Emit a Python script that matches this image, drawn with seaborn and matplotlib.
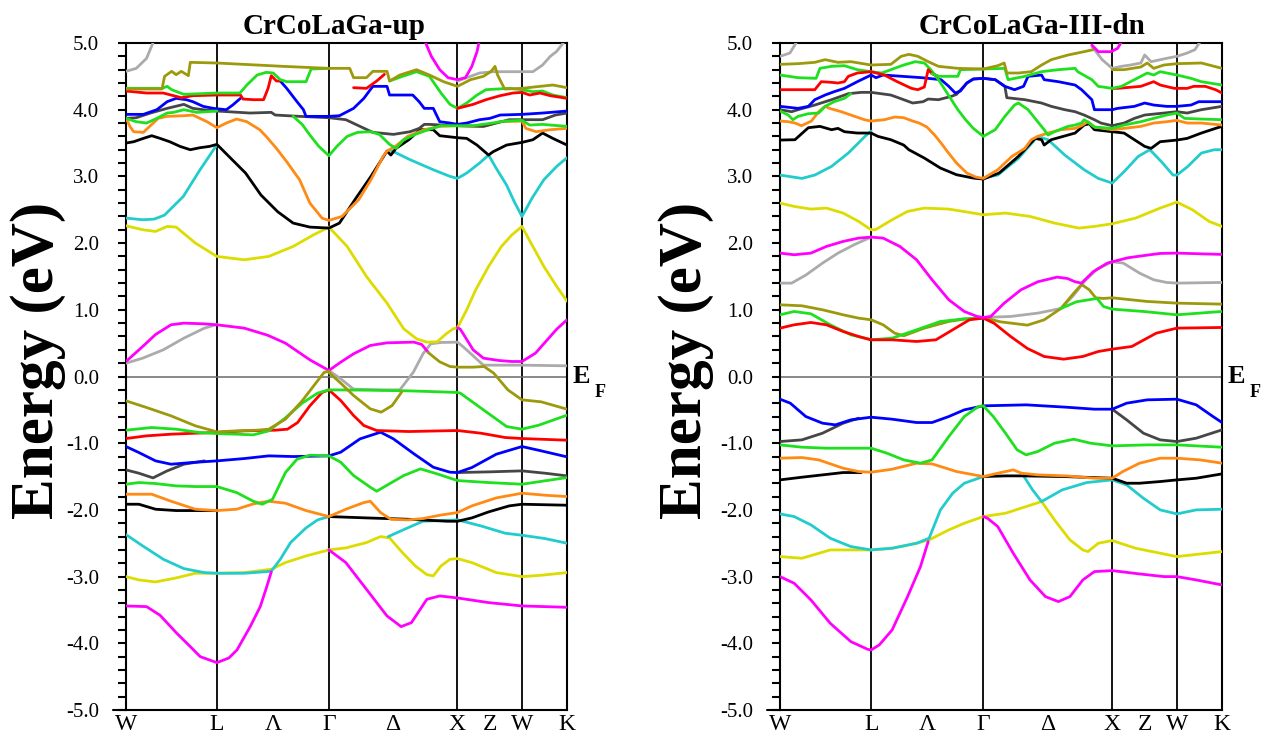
import matplotlib
matplotlib.use("Agg")
import matplotlib.pyplot as plt
import seaborn as sns
from matplotlib.ticker import MultipleLocator, FormatStrFormatter
from matplotlib.transforms import blended_transform_factory

# ---------------- k-path nodes ----------------
K_W0, K_L, K_G, K_X, K_W, K_K = 0.0, 0.707, 1.578, 2.578, 3.08, 3.43
TICK_POS = [K_W0, K_L, (K_L + K_G) / 2, K_G, (K_G + K_X) / 2, K_X, (K_X + K_W) / 2, K_W, K_K]
TICK_LABELS = ["W", "L", "Λ", "Γ", "Δ", "X", "Z", "W", "K"]
TITLES = ["CrCoLaGa-up", "CrCoLaGa-III-dn"]

COLORS = {
    "magenta": "#ff00ff", "gray": "#ababab", "yellow": "#dcdc00", "cyan": "#22cccc",
    "orange": "#ff8a14", "black": "#000000", "dgray": "#464646", "blue": "#0000ff",
    "red": "#ff0000", "green": "#1ee01e", "olive": "#9c9a0c",
}

# ================= spin-up panel =================
UP_GRY_WL_K = [0, 0.13, 0.29, 0.45, 0.61, 0.707]
UP_GRY_WL_E = [0.2, 0.275, 0.40, 0.575, 0.725, 0.78]
UP_GRY_GX_K = [1.578, 1.67, 1.77, 2.0, 2.13, 2.235, 2.31, 2.37, 2.45, 2.578, 2.62, 2.78, 2.96, 3.08, 3.43]
UP_GRY_GX_E = [0.09, -0.035, -0.19, -0.2, -0.2, 0.065, 0.34, 0.49, 0.51, 0.515, 0.45, 0.17, 0.17, 0.17, 0.16]
UP_GRY_TL_K = [0, 0.08, 0.16, 0.22]
UP_GRY_TL_E = [4.575, 4.62, 4.77, 5.05]
UP_GRY_TR_K = [2.578, 2.65, 2.75, 2.855, 2.93, 3.08, 3.165, 3.24, 3.30, 3.35, 3.42]
UP_GRY_TR_E = [4.43, 4.48, 4.55, 4.57, 4.57, 4.57, 4.57, 4.67, 4.8, 4.875, 5.05]

UP_YEL_LOW1_K = [0, 0.10, 0.23, 0.39, 0.54, 0.707, 0.92, 1.13, 1.24, 1.40, 1.578]
UP_YEL_LOW1_E = [-3.0, -3.05, -3.08, -3.02, -2.95, -2.95, -2.94, -2.89, -2.79, -2.69, -2.60]
UP_YEL_LOW2_K = [1.578, 1.71, 1.87, 1.98, 2.05, 2.15, 2.25, 2.34, 2.39, 2.45, 2.52, 2.578, 2.69, 2.88, 3.08, 3.23, 3.43]
UP_YEL_LOW2_E = [-2.60, -2.57, -2.49, -2.40, -2.42, -2.64, -2.84, -2.97, -2.99, -2.84, -2.74, -2.73, -2.79, -2.94, -3.0, -2.98, -2.94]
UP_YEL_UP_K = [0, 0.13, 0.23, 0.32, 0.39, 0.54, 0.707, 0.92, 1.11, 1.30, 1.46, 1.578, 1.72, 1.87, 2.03, 2.16,
               2.26, 2.34, 2.42, 2.49, 2.545, 2.578, 2.65, 2.72, 2.82, 2.92, 3.0, 3.08, 3.15, 3.25, 3.35, 3.43]
UP_YEL_UP_E = [2.26, 2.2, 2.175, 2.25, 2.24, 2.0, 1.8, 1.75, 1.8, 1.95, 2.125, 2.24, 1.95, 1.5, 1.1, 0.715,
               0.565, 0.515, 0.52, 0.64, 0.715, 0.73, 1.0, 1.3, 1.65, 1.95, 2.12, 2.25, 2.0, 1.65, 1.35, 1.13]

UP_CYA_LOW1_K = [0, 0.13, 0.29, 0.45, 0.61, 0.707, 0.92, 1.13, 1.20, 1.28, 1.40, 1.49, 1.578]
UP_CYA_LOW1_E = [-2.37, -2.54, -2.74, -2.88, -2.94, -2.95, -2.95, -2.92, -2.74, -2.49, -2.27, -2.15, -2.10]
UP_CYA_LOW2_K = [2.04, 2.19, 2.31, 2.578, 2.76, 2.95, 3.08, 3.26, 3.43]
UP_CYA_LOW2_E = [-2.40, -2.27, -2.17, -2.15, -2.24, -2.35, -2.38, -2.43, -2.50]
UP_CYA_UP1_K = [0, 0.13, 0.22, 0.30, 0.446, 0.576, 0.707]
UP_CYA_UP1_E = [2.375, 2.35, 2.36, 2.42, 2.7, 3.1, 3.475]
UP_CYA_UP2_K = [2.05, 2.21, 2.39, 2.52, 2.578, 2.65, 2.75, 2.82, 2.88, 2.96, 3.02, 3.08, 3.16, 3.25, 3.35, 3.43]
UP_CYA_UP2_E = [3.4, 3.25, 3.1, 3.0, 2.97, 3.05, 3.2, 3.32, 3.12, 2.87, 2.62, 2.4, 2.68, 2.95, 3.15, 3.28]

UP_MAG_LOW1_K = [0, 0.16, 0.265, 0.395, 0.50, 0.577, 0.707, 0.80, 0.863, 0.966, 1.044, 1.09, 1.13]
UP_MAG_LOW1_E = [-3.44, -3.45, -3.58, -3.85, -4.05, -4.2, -4.29, -4.22, -4.1, -3.75, -3.45, -3.18, -2.93]
UP_MAG_LOW2_K = [1.578, 1.71, 1.87, 2.03, 2.14, 2.22, 2.34, 2.44, 2.578, 2.82, 3.08, 3.43]
UP_MAG_LOW2_E = [-2.60, -2.79, -3.19, -3.59, -3.75, -3.69, -3.34, -3.29, -3.32, -3.39, -3.44, -3.46]
UP_MAG_MID_K = [0, 0.13, 0.23, 0.35, 0.45, 0.60, 0.707, 0.92, 1.10, 1.24, 1.43, 1.578, 1.67, 1.77, 1.90, 2.03, 2.24, 2.30, 2.35]
UP_MAG_MID_E = [0.225, 0.45, 0.63, 0.775, 0.80, 0.79, 0.775, 0.725, 0.62, 0.50, 0.25, 0.09, 0.215, 0.34, 0.465, 0.505, 0.515, 0.48, 0.365]
UP_MAG_XK_K = [2.578, 2.60, 2.70, 2.78, 2.90, 3.0, 3.08, 3.185, 3.35, 3.43]
UP_MAG_XK_E = [0.73, 0.71, 0.40, 0.275, 0.24, 0.225, 0.225, 0.35, 0.71, 0.85]
UP_MAG_TOP_K = [2.32, 2.375, 2.44, 2.505, 2.578, 2.64, 2.69, 2.73, 2.75]
UP_MAG_TOP_E = [5.05, 4.8, 4.6, 4.48, 4.45, 4.48, 4.65, 4.87, 5.05]

UP_ORA_LOW_K = [0, 0.20, 0.35, 0.54, 0.707, 0.86, 0.99, 1.11, 1.24, 1.40, 1.578, 1.71, 1.85, 1.90, 1.98,
                2.06, 2.19, 2.31, 2.44, 2.578, 2.69, 2.88, 3.08, 3.26, 3.43]
UP_ORA_LOW_E = [-1.765, -1.765, -1.87, -1.99, -2.01, -1.99, -1.91, -1.87, -1.90, -2.01, -2.10, -1.99, -1.89, -1.87, -2.04,
                -2.14, -2.15, -2.13, -2.08, -2.04, -1.94, -1.82, -1.75, -1.78, -1.80]
UP_ORA_UP_K = [0, 0.03, 0.06, 0.135, 0.19, 0.25, 0.32, 0.45, 0.52, 0.63, 0.707, 0.78, 0.86, 0.94, 1.04, 1.09, 1.17,
               1.25, 1.35, 1.43, 1.525, 1.578, 1.68, 1.81, 1.905, 2.0, 2.03, 2.095, 2.19, 2.32, 2.44, 2.578, 2.78,
               2.91, 3.08, 3.11, 3.19, 3.30, 3.43]
UP_ORA_UP_E = [3.88, 3.75, 3.67, 3.66, 3.76, 3.87, 3.9, 3.91, 3.92, 3.82, 3.73, 3.8, 3.86, 3.82, 3.7, 3.6, 3.42,
               3.22, 2.95, 2.6, 2.375, 2.34, 2.4, 2.65, 2.95, 3.3, 3.38, 3.45, 3.6, 3.7, 3.75, 3.76, 3.75,
               3.82, 3.83, 3.72, 3.67, 3.7, 3.72]

UP_BLK_LOW1_K = [0, 0.10, 0.23, 0.39, 0.61, 0.707]
UP_BLK_LOW1_E = [-1.915, -1.915, -1.99, -2.01, -2.01, -2.01]
UP_BLK_LOW2_K = [1.578, 1.87, 2.19, 2.50, 2.578, 2.69, 2.82, 2.98, 3.08, 3.43]
UP_BLK_LOW2_E = [-2.10, -2.12, -2.14, -2.17, -2.17, -2.12, -2.03, -1.94, -1.915, -1.93]
UP_BLK_UP_K = [0, 0.06, 0.135, 0.2, 0.265, 0.34, 0.42, 0.5, 0.575, 0.65, 0.707, 0.80, 0.93, 1.05, 1.18, 1.30, 1.43,
               1.578, 1.66, 1.78, 1.905, 2.03, 2.06, 2.10, 2.2, 2.285, 2.39, 2.44, 2.578, 2.65, 2.73, 2.82, 2.855,
               2.96, 3.08, 3.165, 3.24, 3.32, 3.43]
UP_BLK_UP_E = [3.5, 3.52, 3.57, 3.61, 3.57, 3.52, 3.45, 3.4, 3.43, 3.45, 3.48, 3.3, 3.05, 2.72, 2.47, 2.3, 2.24,
               2.225, 2.3, 2.65, 3.0, 3.38, 3.32, 3.42, 3.55, 3.7, 3.7, 3.61, 3.58, 3.57, 3.47, 3.32, 3.37,
               3.47, 3.51, 3.55, 3.65, 3.57, 3.47]

UP_DGR_LOW1_K = [0, 0.10, 0.21, 0.32, 0.45, 0.61]
UP_DGR_LOW1_E = [-1.40, -1.45, -1.52, -1.415, -1.315, -1.265]
UP_DGR_LOW2_K = [2.578, 2.82, 3.08, 3.26, 3.43]
UP_DGR_LOW2_E = [-1.44, -1.43, -1.415, -1.45, -1.49]
UP_DGR_UP_K = [0, 0.08, 0.19, 0.32, 0.45, 0.52, 0.60, 0.707, 0.965, 1.13, 1.16, 1.35, 1.578, 1.71, 1.82, 1.92,
               2.08, 2.21, 2.28, 2.32, 2.36, 2.45, 2.578, 2.78, 2.98, 3.08, 3.24, 3.34, 3.43]
UP_DGR_UP_E = [3.87, 3.88, 3.95, 4.02, 4.08, 4.02, 4.0, 3.98, 3.95, 3.96, 3.92, 3.9, 3.88, 3.85, 3.75, 3.66,
               3.63, 3.67, 3.72, 3.78, 3.78, 3.77, 3.76, 3.75, 3.85, 3.85, 3.85, 3.92, 3.95]

UP_BLU_LOW_K = [0, 0.10, 0.23, 0.35, 0.51, 0.707, 0.92, 1.11, 1.30, 1.578, 1.67, 1.82, 1.98, 2.08, 2.24, 2.39,
                2.52, 2.578, 2.69, 2.88, 3.08, 3.23, 3.43]
UP_BLU_LOW_E = [-1.05, -1.14, -1.265, -1.315, -1.29, -1.265, -1.23, -1.19, -1.20, -1.19, -1.135, -0.935, -0.835,
                -0.935, -1.16, -1.36, -1.435, -1.44, -1.365, -1.165, -1.05, -1.115, -1.205]
UP_BLU_TOP1_K = [0, 0.135, 0.24, 0.32, 0.39, 0.47, 0.52, 0.60, 0.68, 0.73, 0.78, 0.83, 0.89]
UP_BLU_TOP1_E = [3.93, 3.93, 4.0, 4.12, 4.17, 4.15, 4.12, 4.05, 4.02, 4.01, 4.0, 4.07, 4.17]
UP_BLU_TOP2_K = [1.20, 1.25, 1.33, 1.38, 1.40, 1.578, 1.66, 1.77, 1.85, 1.90, 1.92, 2.03, 2.05, 2.23, 2.28, 2.32,
                 2.39, 2.44, 2.52, 2.578, 2.65, 2.75, 2.83, 2.91, 3.08, 3.24, 3.43]
UP_BLU_TOP2_E = [4.43, 4.32, 4.12, 4.0, 3.9, 3.9, 3.91, 4.02, 4.17, 4.3, 4.35, 4.35, 4.22, 4.22, 4.12, 4.02,
                 4.02, 3.82, 3.8, 3.78, 3.8, 3.85, 3.87, 3.92, 3.93, 3.95, 3.98]

UP_RED_LOW_K = [0, 0.16, 0.35, 0.54, 0.707, 0.92, 1.16, 1.256, 1.335, 1.43, 1.525, 1.578, 1.67, 1.77, 1.85, 1.95,
                2.2, 2.578, 2.76, 2.95, 3.08, 3.43]
UP_RED_LOW_E = [-0.93, -0.89, -0.865, -0.85, -0.84, -0.815, -0.805, -0.79, -0.69, -0.44, -0.24, -0.2, -0.36,
                -0.585, -0.735, -0.81, -0.825, -0.81, -0.85, -0.915, -0.93, -0.955]
UP_RED_TOP1_K = [0, 0.08, 0.16, 0.29, 0.43, 0.52, 0.707, 0.89, 0.91, 0.99, 1.07, 1.105, 1.13, 1.17, 1.20]
UP_RED_TOP1_E = [4.28, 4.265, 4.25, 4.25, 4.18, 4.21, 4.22, 4.22, 4.16, 4.15, 4.15, 4.32, 4.51, 4.43, 4.43]
UP_RED_TOP2_K = [1.77, 1.87, 1.95, 2.01]
UP_RED_TOP2_E = [4.33, 4.32, 4.43, 4.53]
UP_RED_TOP3_K = [2.578, 2.70, 2.80, 2.91, 3.01, 3.08, 3.14, 3.22, 3.30, 3.43]
UP_RED_TOP3_E = [4.02, 4.08, 4.15, 4.21, 4.25, 4.26, 4.22, 4.25, 4.21, 4.17]

UP_GRN_LOW_K = [0, 0.10, 0.23, 0.39, 0.54, 0.707, 0.86, 0.99, 1.06, 1.14, 1.24, 1.33, 1.43, 1.578, 1.67, 1.77,
                1.90, 1.95, 2.03, 2.16, 2.29, 2.42, 2.578, 2.82, 3.08, 3.43]
UP_GRN_LOW_E = [-1.615, -1.59, -1.605, -1.64, -1.65, -1.65, -1.74, -1.87, -1.915, -1.84, -1.44, -1.24, -1.18,
                -1.19, -1.285, -1.485, -1.66, -1.72, -1.63, -1.485, -1.385, -1.46, -1.56, -1.59, -1.615, -1.515]
UP_GRN_MID_K = [0, 0.20, 0.39, 0.57, 0.707, 0.86, 0.99, 1.11, 1.24, 1.37, 1.49, 1.578, 1.87, 2.19, 2.44, 2.578,
                2.60, 2.78, 2.96, 3.08, 3.21, 3.43]
UP_GRN_MID_E = [-0.805, -0.765, -0.79, -0.84, -0.855, -0.865, -0.875, -0.815, -0.62, -0.40, -0.25, -0.20,
                -0.205, -0.215, -0.23, -0.24, -0.25, -0.5, -0.75, -0.79, -0.73, -0.58]
UP_GRN_V_K = [1.30, 1.37, 1.43, 1.50, 1.578, 1.64, 1.72, 1.80, 1.90, 1.97, 2.05, 2.10, 2.16, 2.25, 2.35, 2.45,
              2.578, 2.70, 2.85, 2.95, 3.08, 3.14, 3.24, 3.30, 3.43]
UP_GRN_V_E = [3.9, 3.78, 3.62, 3.45, 3.31, 3.45, 3.6, 3.66, 3.67, 3.63, 3.48, 3.42, 3.55, 3.63, 3.7, 3.76,
              3.76, 3.76, 3.8, 3.83, 3.84, 3.77, 3.78, 3.77, 3.75]
UP_GRN_TOP_K = [0, 0.28, 0.32, 0.355, 0.45, 0.707, 0.886, 0.94, 1.02, 1.09, 1.145, 1.20, 1.25, 1.40, 1.44, 1.578]
UP_GRN_TOP_E = [4.32, 4.32, 4.35, 4.3, 4.23, 4.25, 4.25, 4.37, 4.52, 4.56, 4.55, 4.45, 4.42, 4.42, 4.61, 4.62]
UP_GRN_W_K = [0, 0.08, 0.16, 0.24, 0.32, 0.37, 0.45, 0.55, 0.707]
UP_GRN_W_E = [3.87, 3.82, 3.8, 3.87, 3.95, 3.96, 4.0, 3.96, 3.98]
UP_GRN_TR_K = [2.05, 2.15, 2.26, 2.36, 2.45, 2.52, 2.578, 2.65, 2.73, 2.80, 2.98, 3.08, 3.165, 3.24, 3.32, 3.43]
UP_GRN_TR_E = [4.43, 4.5, 4.57, 4.5, 4.25, 4.08, 4.02, 4.1, 4.22, 4.3, 4.32, 4.3, 4.27, 4.28, 4.22, 4.18]

UP_OLI_LOW_K = [0, 0.16, 0.35, 0.54, 0.707, 0.86, 1.02, 1.11, 1.24, 1.37, 1.46, 1.54, 1.578]
UP_OLI_LOW_E = [-0.365, -0.465, -0.59, -0.74, -0.83, -0.815, -0.805, -0.79, -0.64, -0.365, -0.14, 0.06, 0.08]
UP_OLI_DIP_K = [1.578, 1.67, 1.77, 1.90, 1.985, 2.07, 2.145]
UP_OLI_DIP_E = [0.06, -0.1, -0.285, -0.485, -0.535, -0.435, -0.23]
UP_OLI_XMID_K = [2.35, 2.44, 2.52, 2.578, 2.70, 2.785, 2.86, 2.97, 3.08, 3.23, 3.43]
UP_OLI_XMID_E = [0.36, 0.22, 0.15, 0.14, 0.14, 0.15, 0.05, -0.2, -0.35, -0.38, -0.49]
UP_OLI_TOP_K = [0, 0.28, 0.30, 0.355, 0.39, 0.43, 0.485, 0.50, 0.707, 0.965, 1.22, 1.578, 1.74, 1.77, 1.87, 1.92,
                2.03, 2.05, 2.13, 2.26, 2.36, 2.47, 2.578, 2.68, 2.78, 2.84, 2.87, 2.89, 2.945, 3.08, 3.22, 3.32, 3.43]
UP_OLI_TOP_E = [4.31, 4.31, 4.5, 4.575, 4.525, 4.575, 4.51, 4.71, 4.70, 4.675, 4.65, 4.62, 4.62, 4.48, 4.48, 4.575,
                4.575, 4.43, 4.52, 4.6, 4.52, 4.42, 4.35, 4.45, 4.5, 4.575, 4.65, 4.52, 4.31, 4.32, 4.35, 4.37, 4.33]

# ================= spin-down panel =================
DN_GRY_TL_K = [0, 0.077, 0.14]
DN_GRY_TL_E = [4.8, 4.85, 5.05]
DN_GRY_WL_K = [0, 0.09, 0.2, 0.33, 0.45, 0.58, 0.707]
DN_GRY_WL_E = [1.4, 1.4, 1.52, 1.7, 1.85, 1.98, 2.09]
DN_GRY_GK_K = [1.578, 1.79, 2.0, 2.18, 2.28, 2.36, 2.46, 2.578, 2.664, 2.79, 2.9, 3.0, 3.08, 3.43]
DN_GRY_GK_E = [0.885, 0.9, 0.95, 1.02, 1.22, 1.42, 1.61, 1.72, 1.7, 1.55, 1.45, 1.41, 1.4, 1.41]
DN_GRY_TR_K = [2.42, 2.50, 2.578, 2.65, 2.72, 2.80, 2.83, 2.88, 3.0, 3.08, 3.16, 3.22, 3.27]
DN_GRY_TR_E = [4.95, 4.75, 4.62, 4.65, 4.67, 4.7, 4.82, 4.72, 4.77, 4.8, 4.85, 4.9, 5.05]

DN_YEL_LOW1_K = [0, 0.17, 0.39, 0.61, 0.707, 0.87, 1.06, 1.157]
DN_YEL_LOW1_E = [-2.7, -2.725, -2.6, -2.6, -2.6, -2.575, -2.5, -2.45]
DN_YEL_LOW2_K = [1.157, 1.31, 1.43, 1.578, 1.75, 1.91, 2.03, 2.13, 2.25, 2.35, 2.39, 2.47, 2.578, 2.76, 3.08, 3.43]
DN_YEL_LOW2_E = [-2.45, -2.3, -2.2, -2.1, -2.05, -1.95, -1.875, -2.15, -2.45, -2.6, -2.625, -2.5, -2.46, -2.575, -2.7, -2.625]
DN_YEL_UP_K = [0, 0.11, 0.24, 0.36, 0.49, 0.61, 0.707, 0.74, 0.87, 0.99, 1.12, 1.31, 1.50, 1.578, 1.75, 1.94,
               2.13, 2.32, 2.44, 2.578, 2.76, 2.95, 3.08, 3.20, 3.33, 3.43]
DN_YEL_UP_E = [2.6, 2.55, 2.51, 2.525, 2.45, 2.325, 2.2, 2.2, 2.35, 2.475, 2.525, 2.51, 2.45, 2.425, 2.45, 2.4,
               2.3, 2.225, 2.25, 2.29, 2.375, 2.525, 2.615, 2.5, 2.325, 2.25]

DN_CYA_LOW1_K = [0, 0.11, 0.24, 0.39, 0.55, 0.707, 0.87, 1.06, 1.157, 1.245, 1.34, 1.43, 1.578]
DN_CYA_LOW1_E = [-2.06, -2.1, -2.225, -2.425, -2.55, -2.6, -2.575, -2.5, -2.425, -2.0, -1.75, -1.6, -1.5]
DN_CYA_LOW2_K = [1.89, 1.96, 2.03, 2.19, 2.38, 2.578, 2.69, 2.82, 2.95, 3.08, 3.23, 3.43]
DN_CYA_LOW2_E = [-1.49, -1.7, -1.875, -1.7, -1.59, -1.55, -1.625, -1.825, -2.0, -2.06, -2.0, -1.99]
DN_CYA_UP1_K = [0, 0.17, 0.27, 0.40, 0.53, 0.66, 0.707]
DN_CYA_UP1_E = [3.02, 2.97, 3.02, 3.15, 3.35, 3.6, 3.68]
DN_CYA_UP2_K = [1.578, 1.69, 1.85, 2.0, 2.08, 2.21, 2.36, 2.47, 2.578, 2.67, 2.78, 2.87, 2.96, 3.05, 3.08, 3.165,
                3.27, 3.37, 3.43]
DN_CYA_UP2_E = [2.98, 3.02, 3.27, 3.6, 3.55, 3.32, 3.1, 2.97, 2.9, 3.07, 3.3, 3.4, 3.22, 3.02, 3.02, 3.15,
                3.35, 3.4, 3.4]

DN_MAG_LOW1_K = [0, 0.11, 0.24, 0.39, 0.55, 0.68, 0.707, 0.77, 0.87, 0.99, 1.09, 1.15]
DN_MAG_LOW1_E = [-3.0, -3.1, -3.35, -3.7, -3.975, -4.09, -4.1, -4.025, -3.8, -3.3, -2.85, -2.475]
DN_MAG_LOW2_K = [1.578, 1.61, 1.69, 1.81, 1.94, 2.06, 2.16, 2.25, 2.35, 2.44, 2.578, 2.79, 2.98, 3.08, 3.23, 3.43]
DN_MAG_LOW2_E = [-2.1, -2.125, -2.25, -2.65, -3.05, -3.3, -3.375, -3.3, -3.05, -2.925, -2.91, -2.96, -3.0, -3.0, -3.05, -3.125]
DN_MAG_MID_K = [0, 0.11, 0.24, 0.36, 0.49, 0.61, 0.707, 0.80, 0.93, 1.06, 1.18, 1.31, 1.43, 1.53, 1.578, 1.635,
                1.74, 1.87, 2.0, 2.15, 2.23, 2.29, 2.34, 2.43, 2.54, 2.578, 2.7, 2.85, 2.95, 3.08, 3.43]
DN_MAG_MID_E = [1.85, 1.825, 1.85, 1.95, 2.025, 2.075, 2.09, 2.075, 1.95, 1.75, 1.45, 1.15, 0.975, 0.9, 0.885, 0.9,
                1.1, 1.3, 1.42, 1.49, 1.47, 1.42, 1.40, 1.57, 1.70, 1.72, 1.78, 1.82, 1.845, 1.85, 1.83]
DN_MAG_TOP_K = [2.42, 2.47, 2.57, 2.62, 2.66]
DN_MAG_TOP_E = [4.97, 4.87, 4.87, 4.92, 5.05]

DN_ORA_LOW_K = [0, 0.17, 0.30, 0.49, 0.61, 0.707, 0.87, 1.06, 1.18, 1.37, 1.578, 1.69, 1.81, 1.875, 2.0, 2.22,
                2.44, 2.578, 2.66, 2.79, 2.95, 3.08, 3.26, 3.43]
DN_ORA_LOW_E = [-1.225, -1.215, -1.25, -1.375, -1.425, -1.435, -1.39, -1.3, -1.31, -1.425, -1.5, -1.45, -1.4, -1.45,
                -1.475, -1.49, -1.525, -1.525, -1.425, -1.3, -1.225, -1.225, -1.25, -1.3]
DN_ORA_UP_K = [0, 0.064, 0.116, 0.167, 0.244, 0.30, 0.35, 0.385, 0.475, 0.58, 0.655, 0.707, 0.81, 0.89, 0.96, 1.03,
               1.08, 1.14, 1.20, 1.25, 1.30, 1.37, 1.45, 1.52, 1.578, 1.69, 1.80, 1.90, 1.95, 2.0, 2.08, 2.18, 2.29,
               2.34, 2.39, 2.44, 2.578, 2.67, 2.80, 2.90, 3.0, 3.08, 3.16, 3.27, 3.43]
DN_ORA_UP_E = [3.83, 3.82, 3.8, 3.76, 3.83, 3.97, 4.05, 4.02, 3.97, 3.9, 3.85, 3.83, 3.85, 3.89, 3.88, 3.83,
               3.8, 3.74, 3.62, 3.5, 3.37, 3.2, 3.05, 2.99, 2.97, 3.1, 3.3, 3.42, 3.55, 3.6, 3.65, 3.7, 3.72,
               3.76, 3.82, 3.74, 3.7, 3.72, 3.75, 3.8, 3.82, 3.84, 3.8, 3.8, 3.77]

DN_BLK_LOW1_K = [0, 0.17, 0.33, 0.49, 0.63]
DN_BLK_LOW1_E = [-1.55, -1.51, -1.475, -1.44, -1.44]
DN_BLK_LOW2_K = [1.578, 1.75, 1.88, 2.2, 2.578, 2.69, 2.79, 2.95, 3.08, 3.23, 3.43]
DN_BLK_LOW2_E = [-1.5, -1.49, -1.49, -1.5, -1.525, -1.6, -1.6, -1.575, -1.55, -1.525, -1.46]
DN_BLK_UP_K = [0, 0.116, 0.22, 0.31, 0.40, 0.45, 0.50, 0.60, 0.707, 0.76, 0.86, 0.96, 1.0, 1.12, 1.245, 1.37,
               1.50, 1.578, 1.70, 1.85, 1.98, 2.03, 2.05, 2.105, 2.29, 2.36, 2.40, 2.44, 2.578, 2.67, 2.75, 2.83,
               2.88, 2.95, 3.08, 3.16, 3.27, 3.38, 3.43]
DN_BLK_UP_E = [3.545, 3.55, 3.73, 3.75, 3.7, 3.72, 3.67, 3.65, 3.65, 3.6, 3.55, 3.47, 3.4, 3.275, 3.125, 3.025,
               2.975, 2.96, 3.05, 3.3, 3.57, 3.55, 3.47, 3.55, 3.65, 3.77, 3.79, 3.7, 3.67, 3.65, 3.55, 3.45,
               3.42, 3.52, 3.545, 3.57, 3.65, 3.72, 3.75]

DN_DGR_LOW1_K = [0, 0.17, 0.33, 0.49, 0.61]
DN_DGR_LOW1_E = [-0.975, -0.95, -0.85, -0.7, -0.625]
DN_DGR_LOW2_K = [2.578, 2.69, 2.82, 2.95, 3.08, 3.23, 3.43]
DN_DGR_LOW2_E = [-0.49, -0.65, -0.85, -0.95, -0.975, -0.925, -0.8]
DN_DGR_UP_K = [0, 0.09, 0.14, 0.27, 0.40, 0.53, 0.63, 0.707, 0.86, 0.96, 1.03, 1.11, 1.15, 1.23, 1.33, 1.37,
               1.45, 1.50, 1.578, 1.67, 1.745, 1.76, 1.90, 2.03, 2.105, 2.21, 2.29, 2.36, 2.44, 2.49, 2.578, 2.67,
               2.75, 2.83, 3.08, 3.16, 3.27, 3.43]
DN_DGR_UP_E = [4.0, 3.97, 4.0, 4.07, 4.15, 4.24, 4.26, 4.26, 4.22, 4.15, 4.1, 4.12, 4.16, 4.15, 4.2, 4.23,
               4.4, 4.46, 4.47, 4.45, 4.35, 4.18, 4.15, 4.1, 4.05, 4.0, 3.97, 3.92, 3.85, 3.8, 3.76, 3.8,
               3.87, 3.92, 3.97, 3.95, 4.0, 4.05]

DN_BLU_LOW_K = [0, 0.08, 0.20, 0.33, 0.43, 0.55, 0.707, 0.87, 1.06, 1.18, 1.31, 1.43, 1.578, 1.91, 2.22, 2.44,
                2.578, 2.69, 2.85, 3.08, 3.23, 3.36, 3.43]
DN_BLU_LOW_E = [-0.34, -0.4, -0.6, -0.7, -0.725, -0.65, -0.61, -0.64, -0.69, -0.69, -0.6, -0.5, -0.44, -0.425,
                -0.46, -0.49, -0.49, -0.4, -0.35, -0.34, -0.425, -0.6, -0.69]
DN_BLU_UP_K = [0, 0.14, 0.22, 0.27, 0.35, 0.42, 0.50, 0.60, 0.707, 0.745, 0.80, 0.95, 1.10, 1.25, 1.31, 1.36,
               1.40, 1.45, 1.50, 1.578, 1.67, 1.745, 1.82, 1.89, 1.925, 2.03, 2.05, 2.16, 2.29, 2.34, 2.42, 2.44,
               2.578, 2.62, 2.75, 2.83, 2.90, 3.0, 3.08, 3.19, 3.25, 3.43]
DN_BLU_UP_E = [4.05, 4.02, 4.05, 4.15, 4.22, 4.27, 4.32, 4.42, 4.52, 4.48, 4.52, 4.5, 4.48, 4.45, 4.35, 4.25,
               4.28, 4.4, 4.46, 4.47, 4.45, 4.35, 4.3, 4.35, 4.5, 4.52, 4.45, 4.42, 4.37, 4.3, 4.15, 4.0,
               4.0, 4.02, 4.05, 4.1, 4.07, 4.05, 4.05, 4.07, 4.12, 4.12]

DN_RED_MID_K = [0, 0.11, 0.24, 0.36, 0.49, 0.61, 0.707, 0.87, 1.06, 1.21, 1.34, 1.47, 1.578, 1.66, 1.79, 1.92,
                2.05, 2.2, 2.35, 2.47, 2.578, 2.73, 2.92, 3.08, 3.43]
DN_RED_MID_E = [0.725, 0.775, 0.81, 0.775, 0.675, 0.6, 0.55, 0.55, 0.525, 0.55, 0.7, 0.85, 0.875, 0.8, 0.6, 0.42,
                0.3, 0.26, 0.3, 0.375, 0.41, 0.45, 0.65, 0.725, 0.735]
DN_RED_TOP1_K = [0, 0.14, 0.27, 0.32, 0.40, 0.45, 0.50, 0.53, 0.60, 0.707, 0.81, 0.91, 1.02, 1.07, 1.12, 1.15, 1.18, 1.23]
DN_RED_TOP1_E = [4.3, 4.3, 4.3, 4.42, 4.41, 4.4, 4.42, 4.5, 4.55, 4.57, 4.52, 4.42, 4.32, 4.3, 4.34, 4.6, 4.54, 4.5]
DN_RED_TOP2_K = [2.578, 2.62, 2.80, 2.90, 2.95, 3.06, 3.16, 3.21, 3.30, 3.38, 3.43]
DN_RED_TOP2_E = [4.32, 4.32, 4.35, 4.42, 4.37, 4.32, 4.32, 4.35, 4.35, 4.3, 4.25]

DN_GRN_LOW_K = [0, 0.17, 0.36, 0.61, 0.707, 0.83, 0.96, 1.09, 1.18, 1.31, 1.43, 1.54, 1.578, 1.655, 1.75, 1.84,
                1.91, 2.0, 2.13, 2.28, 2.41, 2.578, 2.85, 3.08, 3.43]
DN_GRN_LOW_E = [-1.025, -1.06, -1.075, -1.075, -1.075, -1.15, -1.25, -1.3, -1.25, -0.9, -0.6, -0.45, -0.44, -0.6,
                -0.85, -1.1, -1.175, -1.125, -1.0, -0.94, -1.0, -1.04, -1.025, -1.025, -1.06]
DN_GRN_MID1_K = [0, 0.11, 0.24, 0.39, 0.55, 0.707, 0.87, 1.06, 1.245, 1.43, 1.578]
DN_GRN_MID1_E = [0.925, 0.975, 0.94, 0.775, 0.625, 0.55, 0.575, 0.7, 0.825, 0.865, 0.875]
DN_GRN_MID2_K = [2.18, 2.30, 2.46, 2.51, 2.578, 2.82, 3.08, 3.43]
DN_GRN_MID2_E = [1.02, 1.12, 1.17, 1.05, 1.01, 0.975, 0.925, 0.975]
DN_GRN_W_K = [0, 0.064, 0.10, 0.14, 0.22, 0.30, 0.35, 0.42, 0.50, 0.55]
DN_GRN_W_E = [3.98, 3.92, 3.85, 3.9, 3.94, 3.95, 4.05, 4.12, 4.17, 4.24]
DN_GRN_TOP_K = [0, 0.14, 0.28, 0.31, 0.40, 0.50, 0.60, 0.707, 0.79, 0.86, 0.96, 1.05, 1.12, 1.17, 1.23, 1.28,
                1.33, 1.38, 1.44, 1.50, 1.578, 1.67, 1.745, 1.82, 1.85, 1.925, 2.0, 2.05, 2.08, 2.13, 2.235, 2.29,
                2.34, 2.36, 2.40, 2.44, 2.578, 2.67, 2.80, 2.90, 3.0, 3.08, 3.14, 3.27, 3.43]
DN_GRN_TOP_E = [4.52, 4.48, 4.47, 4.62, 4.65, 4.66, 4.6, 4.57, 4.55, 4.6, 4.67, 4.72, 4.7, 4.6, 4.45, 4.3,
                4.15, 4.0, 3.85, 3.72, 3.6, 3.7, 3.9, 4.07, 4.1, 4.0, 3.82, 3.7, 3.62, 3.67, 3.75, 3.77,
                3.8, 3.85, 3.8, 3.74, 3.72, 3.77, 3.82, 3.87, 3.92, 3.95, 3.87, 3.86, 3.85]
DN_GRN_TOP2_K = [1.18, 1.23, 1.38, 1.40, 1.578, 1.745, 1.77, 1.90, 2.03, 2.16, 2.29, 2.31, 2.42, 2.47, 2.578,
                 2.65, 2.72, 2.85, 2.90, 2.95, 3.08, 3.19, 3.27, 3.43]
DN_GRN_TOP2_E = [4.54, 4.5, 4.5, 4.6, 4.61, 4.62, 4.45, 4.5, 4.57, 4.6, 4.62, 4.57, 4.45, 4.35, 4.32,
                 4.35, 4.42, 4.55, 4.52, 4.57, 4.52, 4.47, 4.42, 4.37]

DN_OLI_MID_K = [0, 0.17, 0.33, 0.49, 0.61, 0.707, 0.80, 0.89, 0.96, 1.12, 1.31, 1.43, 1.578, 1.71, 1.92, 2.05,
                2.18, 2.28, 2.34, 2.40, 2.45, 2.51, 2.578, 2.85, 3.08, 3.43]
DN_OLI_MID_E = [1.075, 1.06, 1.0, 0.925, 0.875, 0.85, 0.775, 0.65, 0.61, 0.725, 0.825, 0.86, 0.885, 0.82, 0.77, 0.85,
                1.02, 1.25, 1.38, 1.3, 1.18, 1.17, 1.18, 1.125, 1.1, 1.085]
DN_OLI_TOP_K = [0, 0.14, 0.27, 0.35, 0.45, 0.55, 0.707, 0.86, 0.94, 1.0, 1.07, 1.15, 1.23, 1.38, 1.578, 1.69,
                1.74, 1.76, 1.85, 1.95, 2.03, 2.105, 2.235, 2.36, 2.43]
DN_OLI_TOP_E = [4.68, 4.69, 4.71, 4.75, 4.71, 4.72, 4.67, 4.68, 4.8, 4.83, 4.8, 4.72, 4.65, 4.62, 4.61, 4.66,
                4.7, 4.55, 4.55, 4.57, 4.67, 4.75, 4.82, 4.87, 4.9]
DN_OLI_TR_K = [2.578, 2.67, 2.80, 2.85, 2.90, 2.98, 3.08, 3.27, 3.43]
DN_OLI_TR_E = [4.6, 4.6, 4.64, 4.7, 4.62, 4.67, 4.69, 4.7, 4.62]

UP_BANDS = [
    ("gray", UP_GRY_WL_K, UP_GRY_WL_E), ("gray", UP_GRY_GX_K, UP_GRY_GX_E),
    ("gray", UP_GRY_TL_K, UP_GRY_TL_E), ("gray", UP_GRY_TR_K, UP_GRY_TR_E),
    ("yellow", UP_YEL_LOW1_K, UP_YEL_LOW1_E), ("yellow", UP_YEL_LOW2_K, UP_YEL_LOW2_E),
    ("yellow", UP_YEL_UP_K, UP_YEL_UP_E),
    ("cyan", UP_CYA_LOW1_K, UP_CYA_LOW1_E), ("cyan", UP_CYA_LOW2_K, UP_CYA_LOW2_E),
    ("cyan", UP_CYA_UP1_K, UP_CYA_UP1_E), ("cyan", UP_CYA_UP2_K, UP_CYA_UP2_E),
    ("magenta", UP_MAG_LOW1_K, UP_MAG_LOW1_E), ("magenta", UP_MAG_LOW2_K, UP_MAG_LOW2_E),
    ("magenta", UP_MAG_MID_K, UP_MAG_MID_E), ("magenta", UP_MAG_XK_K, UP_MAG_XK_E),
    ("magenta", UP_MAG_TOP_K, UP_MAG_TOP_E),
    ("black", UP_BLK_LOW1_K, UP_BLK_LOW1_E), ("black", UP_BLK_LOW2_K, UP_BLK_LOW2_E),
    ("orange", UP_ORA_LOW_K, UP_ORA_LOW_E),
    ("black", UP_BLK_UP_K, UP_BLK_UP_E), ("orange", UP_ORA_UP_K, UP_ORA_UP_E),
    ("dgray", UP_DGR_LOW1_K, UP_DGR_LOW1_E), ("dgray", UP_DGR_LOW2_K, UP_DGR_LOW2_E),
    ("dgray", UP_DGR_UP_K, UP_DGR_UP_E),
    ("blue", UP_BLU_LOW_K, UP_BLU_LOW_E), ("blue", UP_BLU_TOP1_K, UP_BLU_TOP1_E),
    ("blue", UP_BLU_TOP2_K, UP_BLU_TOP2_E),
    ("green", UP_GRN_LOW_K, UP_GRN_LOW_E), ("green", UP_GRN_V_K, UP_GRN_V_E),
    ("green", UP_GRN_W_K, UP_GRN_W_E), ("green", UP_GRN_TR_K, UP_GRN_TR_E),
    ("red", UP_RED_LOW_K, UP_RED_LOW_E), ("green", UP_GRN_MID_K, UP_GRN_MID_E),
    ("red", UP_RED_TOP1_K, UP_RED_TOP1_E), ("red", UP_RED_TOP2_K, UP_RED_TOP2_E),
    ("red", UP_RED_TOP3_K, UP_RED_TOP3_E), ("green", UP_GRN_TOP_K, UP_GRN_TOP_E),
    ("olive", UP_OLI_LOW_K, UP_OLI_LOW_E), ("olive", UP_OLI_DIP_K, UP_OLI_DIP_E),
    ("olive", UP_OLI_XMID_K, UP_OLI_XMID_E), ("olive", UP_OLI_TOP_K, UP_OLI_TOP_E),
]

DN_BANDS = [
    ("gray", DN_GRY_TL_K, DN_GRY_TL_E), ("gray", DN_GRY_WL_K, DN_GRY_WL_E),
    ("gray", DN_GRY_GK_K, DN_GRY_GK_E), ("gray", DN_GRY_TR_K, DN_GRY_TR_E),
    ("yellow", DN_YEL_LOW1_K, DN_YEL_LOW1_E), ("yellow", DN_YEL_LOW2_K, DN_YEL_LOW2_E),
    ("yellow", DN_YEL_UP_K, DN_YEL_UP_E),
    ("cyan", DN_CYA_LOW1_K, DN_CYA_LOW1_E), ("cyan", DN_CYA_LOW2_K, DN_CYA_LOW2_E),
    ("cyan", DN_CYA_UP1_K, DN_CYA_UP1_E), ("cyan", DN_CYA_UP2_K, DN_CYA_UP2_E),
    ("magenta", DN_MAG_LOW1_K, DN_MAG_LOW1_E), ("magenta", DN_MAG_LOW2_K, DN_MAG_LOW2_E),
    ("black", DN_BLK_LOW1_K, DN_BLK_LOW1_E), ("black", DN_BLK_LOW2_K, DN_BLK_LOW2_E),
    ("orange", DN_ORA_LOW_K, DN_ORA_LOW_E),
    ("black", DN_BLK_UP_K, DN_BLK_UP_E), ("orange", DN_ORA_UP_K, DN_ORA_UP_E),
    ("dgray", DN_DGR_LOW1_K, DN_DGR_LOW1_E), ("dgray", DN_DGR_LOW2_K, DN_DGR_LOW2_E),
    ("dgray", DN_DGR_UP_K, DN_DGR_UP_E),
    ("blue", DN_BLU_LOW_K, DN_BLU_LOW_E), ("blue", DN_BLU_UP_K, DN_BLU_UP_E),
    ("green", DN_GRN_LOW_K, DN_GRN_LOW_E), ("green", DN_GRN_W_K, DN_GRN_W_E),
    ("green", DN_GRN_TOP_K, DN_GRN_TOP_E),
    ("olive", DN_OLI_MID_K, DN_OLI_MID_E), ("green", DN_GRN_MID1_K, DN_GRN_MID1_E),
    ("green", DN_GRN_MID2_K, DN_GRN_MID2_E), ("red", DN_RED_MID_K, DN_RED_MID_E),
    ("red", DN_RED_TOP1_K, DN_RED_TOP1_E), ("red", DN_RED_TOP2_K, DN_RED_TOP2_E),
    ("green", DN_GRN_TOP2_K, DN_GRN_TOP2_E),
    ("olive", DN_OLI_TOP_K, DN_OLI_TOP_E), ("olive", DN_OLI_TR_K, DN_OLI_TR_E),
    ("magenta", DN_MAG_MID_K, DN_MAG_MID_E), ("magenta", DN_MAG_TOP_K, DN_MAG_TOP_E),
]

# ---------------- styling ----------------
sns.set_theme(style="white")
plt.rcParams["font.family"] = ["Liberation Serif", "DejaVu Serif"]
plt.rcParams["axes.unicode_minus"] = False
plt.rcParams["text.color"] = "black"
plt.rcParams["xtick.color"] = "black"
plt.rcParams["ytick.color"] = "black"
plt.rcParams["axes.labelcolor"] = "black"

W_PX, H_PX = 1277, 738
fig = plt.figure(figsize=(W_PX / 100, H_PX / 100), dpi=100)
ax_rects = [
    [126 / W_PX, 28 / H_PX, 441 / W_PX, 667 / H_PX],
    [780 / W_PX, 28 / H_PX, 442 / W_PX, 667 / H_PX],
]
title_x = [334 / W_PX, 1032 / W_PX]
ylabel_x = [38 / W_PX, 686 / W_PX]

for idx, bands in enumerate([UP_BANDS, DN_BANDS]):
    ax = fig.add_axes(ax_rects[idx])
    for node in [K_L, K_G, K_X, K_W]:
        ax.axvline(node, color="black", lw=1.3, zorder=1)
    ax.axhline(0, color="#6a6a6a", lw=1.1, zorder=1)
    for cname, kk, ee in bands:
        sns.lineplot(x=kk, y=ee, ax=ax, color=COLORS[cname], linewidth=2.0,
                     estimator=None, sort=False, legend=False, zorder=3)
    ax.set_xlim(K_W0, K_K)
    ax.set_ylim(-5, 5)
    ax.set_xlabel("")
    ax.set_ylabel("")
    for sp in ax.spines.values():
        sp.set_visible(True)
        sp.set_color("black")
        sp.set_linewidth(1.5)
    ax.set_xticks(TICK_POS)
    ax.set_xticklabels(TICK_LABELS, fontsize=17, color="black")
    ax.tick_params(axis="x", length=0, pad=3, colors="black")
    ax.yaxis.set_major_locator(MultipleLocator(1.0))
    ax.yaxis.set_minor_locator(MultipleLocator(0.2))
    ax.yaxis.set_major_formatter(FormatStrFormatter("%.1f"))
    ax.tick_params(axis="y", which="both", direction="out", left=True, length=5.8, width=1.5,
                   color="black", labelcolor="black", labelsize=15, pad=13.5)
    # bottom axis line extends slightly left of the frame
    ax.plot([-13 / 441, 0], [0, 0], transform=ax.transAxes, color="black", lw=1.5, clip_on=False)
    tr = blended_transform_factory(ax.transAxes, ax.transData)
    ax.text(1.0136, 0.0, "E", transform=tr, fontsize=19, fontweight="bold",
            color="black", ha="left", va="center")
    ax.text(1.062, -0.24, "F", transform=tr, fontsize=13, fontweight="bold",
            color="black", ha="left", va="center")
    fig.text(title_x[idx], 1 - 26 / H_PX, TITLES[idx], ha="center", va="center",
             fontsize=21, fontweight="bold", color="black")
    fig.text(ylabel_x[idx], 1 - 360 / H_PX, "Energy (eV)", rotation=90, ha="center", va="center",
             fontsize=44, fontweight="bold", color="black")

fig.savefig("out.png", dpi=100)
